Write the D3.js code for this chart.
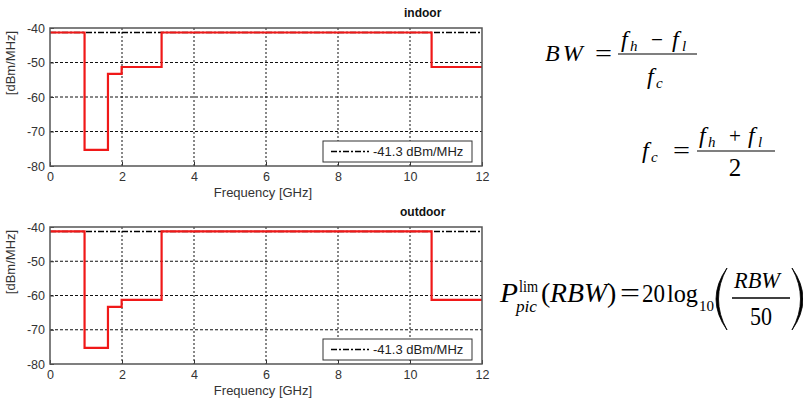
<!DOCTYPE html>
<html><head><meta charset="utf-8">
<script src="https://cdn.jsdelivr.net/npm/d3@7"></script>
<style>body{margin:0;background:#fff}svg{display:block}</style>
</head><body>
<svg id="c" width="803" height="400"></svg>
<script>
const freqEdges = [0, 0.96, 1.61, 1.99, 3.1, 10.6, 12];
const indoorLevels = [-41.3, -75.3, -53.3, -51.3, -41.3, -51.3, -51.3];
const outdoorLevels = [-41.3, -75.3, -63.3, -61.3, -41.3, -61.3, -61.3];
const limitLevel = -41.3;
const xTicks = [0, 2, 4, 6, 8, 10, 12];
const yTicks = [-40, -50, -60, -70, -80];
const legendLabel = "-41.3 dBm/MHz";
const xLabel = "Frequency [GHz]";
const yLabel = "[dBm/MHz]";

const svg = d3.select("#c");
const FONT = "Liberation Sans, Arial, sans-serif";

function chart(levels, title, top, bottom, titleX, titleY) {
  const left = 50, right = 482;
  const x = d3.scaleLinear().domain([0, 12]).range([left, right]);
  const y = d3.scaleLinear().domain([-80, -40]).range([bottom, top]);
  const g = svg.append("g");
  g.selectAll(".gx").data(xTicks.slice(1, -1)).enter().append("line")
    .attr("x1", d => x(d)).attr("x2", d => x(d)).attr("y1", top).attr("y2", bottom)
    .attr("stroke", "#111").attr("stroke-width", 1).attr("stroke-dasharray", "2,2");
  g.selectAll(".gy").data(yTicks.slice(1, -1)).enter().append("line")
    .attr("y1", d => y(d)).attr("y2", d => y(d)).attr("x1", left).attr("x2", right)
    .attr("stroke", "#111").attr("stroke-width", 1).attr("stroke-dasharray", "3,2");
  g.append("line").attr("x1", x(0)).attr("x2", x(12)).attr("y1", y(limitLevel)).attr("y2", y(limitLevel))
    .attr("stroke", "#000").attr("stroke-width", 1.5).attr("stroke-dasharray", "6,2,2,2");
  const line = d3.line().x((d, i) => x(freqEdges[i])).y(d => y(d)).curve(d3.curveStepAfter);
  g.append("path").attr("d", line(levels)).attr("fill", "none")
    .attr("stroke", "#f01818").attr("stroke-width", 2.2);
  const ax = g.append("g").attr("transform", `translate(0,${bottom})`)
    .call(d3.axisBottom(x).tickValues(xTicks).tickSizeInner(-4).tickSizeOuter(0).tickPadding(6).tickFormat(d => String(d)));
  ax.select(".domain").remove();
  ax.selectAll("line").attr("stroke", "#333");
  ax.selectAll("text").attr("font-family", FONT).attr("font-size", 12.5).attr("fill", "#333");
  const ay = g.append("g").attr("transform", `translate(${left},0)`)
    .call(d3.axisLeft(y).tickValues(yTicks).tickSizeInner(-4).tickSizeOuter(0).tickPadding(5).tickFormat(d => String(d)));
  ay.select(".domain").remove();
  ay.selectAll("line").attr("stroke", "#333");
  ay.selectAll("text").attr("font-family", FONT).attr("font-size", 12.5).attr("fill", "#333");
  g.append("rect").attr("x", left).attr("y", top).attr("width", right - left).attr("height", bottom - top)
    .attr("fill", "none").attr("stroke", "#555").attr("stroke-width", 1.5);
  const lx = 323, ly = bottom - 25;
  g.append("rect").attr("x", lx).attr("y", ly).attr("width", 149).attr("height", 21)
    .attr("fill", "#fff").attr("stroke", "#333").attr("stroke-width", 1);
  g.append("line").attr("x1", lx + 8).attr("x2", lx + 46).attr("y1", ly + 10.5).attr("y2", ly + 10.5)
    .attr("stroke", "#000").attr("stroke-width", 1.5).attr("stroke-dasharray", "6,2,2,2");
  g.append("text").attr("x", lx + 50).attr("y", ly + 15).text(legendLabel)
    .attr("font-family", FONT).attr("font-size", 13).attr("fill", "#222");
  g.append("text").attr("x", 263).attr("y", bottom + 31).attr("text-anchor", "middle").text(xLabel)
    .attr("font-family", FONT).attr("font-size", 13).attr("fill", "#333");
  g.append("text").attr("transform", `translate(15,${top + 35}) rotate(-90)`).attr("text-anchor", "middle").text(yLabel)
    .attr("font-family", FONT).attr("font-size", 13).attr("fill", "#333");
  g.append("text").attr("x", titleX).attr("y", titleY).text(title)
    .attr("font-family", FONT).attr("font-size", 12).attr("font-weight", "bold").attr("fill", "#111");
}

chart(indoorLevels, "indoor", 28, 166, 404, 17);
chart(outdoorLevels, "outdoor", 227, 364, 400, 216);

// formulas
const SERIF = "Liberation Serif, Times New Roman, serif";
const f = svg.append("g").attr("font-family", SERIF).attr("fill", "#000");
function t(x, y, s, size, opts = {}) {
  const e = f.append("text").attr("x", x).attr("y", y).attr("font-size", size).text(s);
  if (opts.italic) e.attr("font-style", "italic");
  if (opts.anchor) e.attr("text-anchor", opts.anchor);
  if (opts.w) e.attr("textLength", opts.w).attr("lengthAdjust", "spacingAndGlyphs");
  if (opts.ls) e.attr("letter-spacing", opts.ls);
  return e;
}
function hline(x1, x2, y, w = 1.2) {
  f.append("line").attr("x1", x1).attr("x2", x2).attr("y1", y).attr("y2", y).attr("stroke", "#000").attr("stroke-width", w);
}
// BW = (fh - fl)/fc
t(545, 61, "BW", 24, {italic: true, ls: 3});
t(595, 61, "=", 24, {w: 17});
t(621, 47, "f", 24, {italic: true}); t(630, 51, "h", 15, {italic: true});
t(651, 47, "−", 22, {w: 12});
t(672, 47, "f", 24, {italic: true}); t(682, 51, "l", 15, {italic: true});
hline(618, 697, 54);
t(647, 84, "f", 24, {italic: true}); t(656, 88, "c", 15, {italic: true});
// fc = (fh + fl)/2
t(642, 158, "f", 24, {italic: true}); t(651, 162, "c", 15, {italic: true});
t(673, 158, "=", 24, {w: 17});
t(699, 143, "f", 24, {italic: true}); t(708, 147, "h", 15, {italic: true});
t(729, 143, "+", 22, {w: 12});
t(748, 143, "f", 24, {italic: true}); t(758, 147, "l", 15, {italic: true});
hline(697, 775, 151);
t(735, 176, "2", 25, {anchor: "middle"});
// P_pic^lim(RBW) = 20 log10(RBW/50)
t(500, 302, "P", 28, {italic: true, w: 18});
t(519, 292, "lim", 16, {w: 19});
t(516, 312, "pic", 16, {italic: true, w: 21});
t(541, 302, "(", 28);
t(550, 302, "RBW", 28, {italic: true, w: 57});
t(607, 302, ")", 28);
t(620, 302, "=", 28, {w: 20});
t(642, 302, "20", 25, {w: 23});
t(667, 302, "log", 25, {w: 31});
t(699, 311, "10", 15, {w: 15});
f.append("path").attr("d", "M727,268 Q705,299 727,330 Q710,299 727,268 Z").attr("fill", "#000").attr("stroke", "#000").attr("stroke-width", 0.8);
t(734, 288, "RBW", 23, {italic: true, w: 46});
hline(732, 790, 298, 1.4);
t(750, 325, "50", 25, {w: 22});
f.append("path").attr("d", "M792,268 Q814,299 792,330 Q809,299 792,268 Z").attr("fill", "#000").attr("stroke", "#000").attr("stroke-width", 0.8);
</script>
</body></html>
